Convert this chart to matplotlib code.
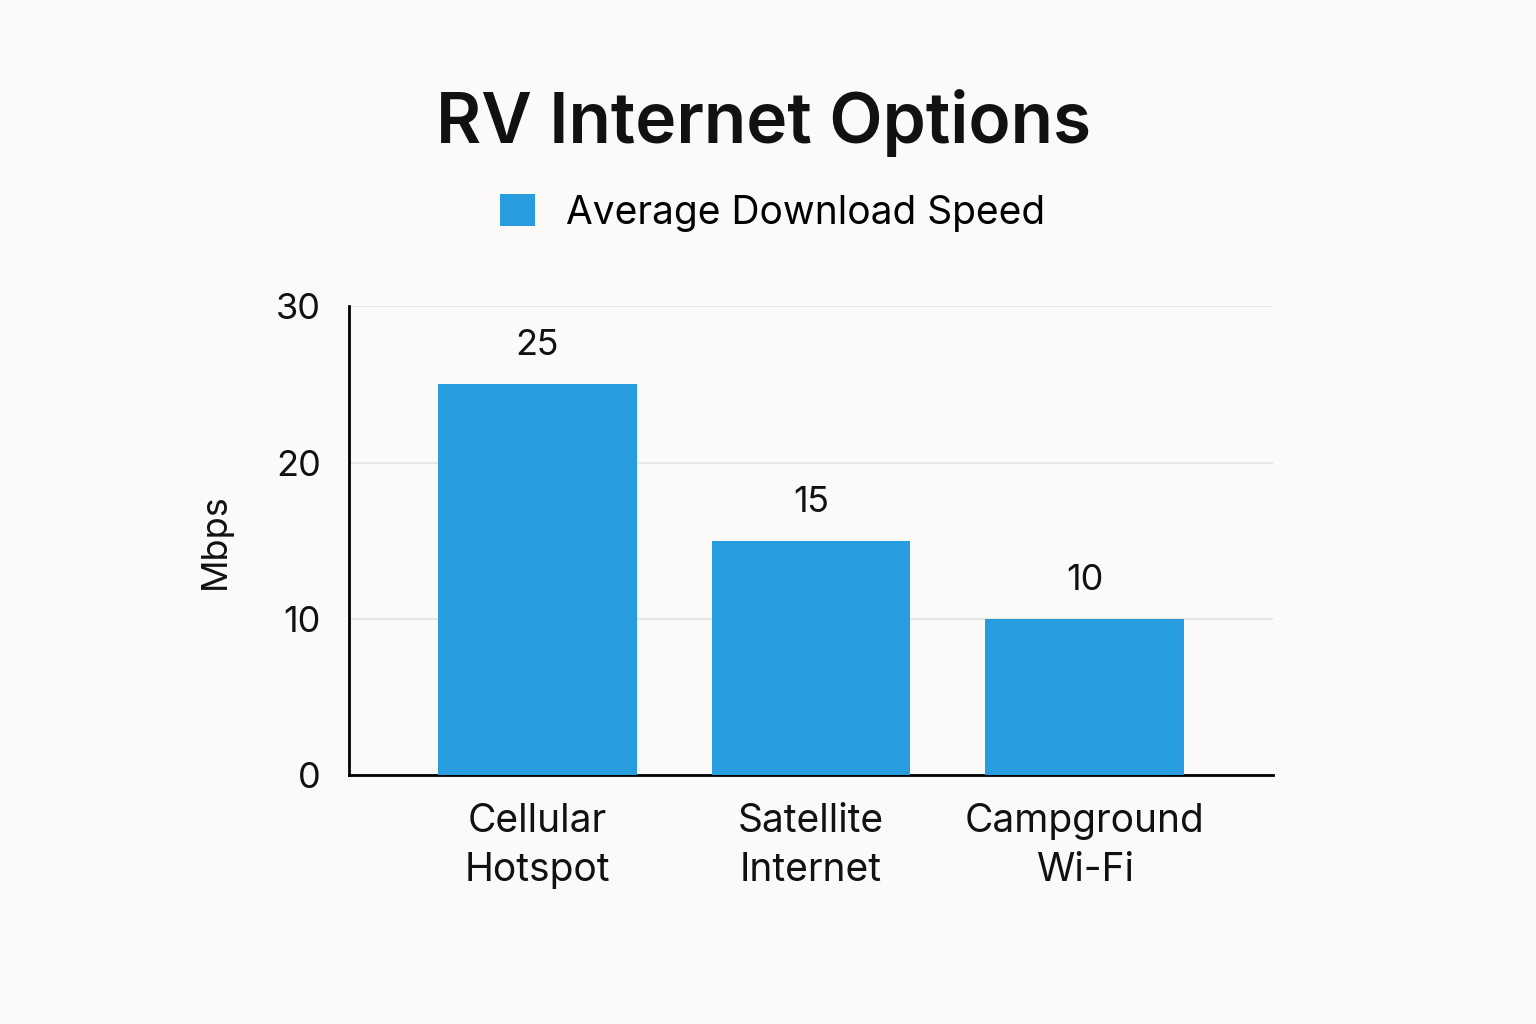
import matplotlib
matplotlib.use("Agg")
import matplotlib.pyplot as plt
from matplotlib.patches import Patch

categories = ["Cellular\nHotspot", "Satellite\nInternet", "Campground\nWi-Fi"]
speeds = [25, 15, 10]
yticks = [0, 10, 20, 30]

plt.rcParams["font.family"] = "Inter"
bg = "#FBFAF8"
color = "#279DE0"

fig = plt.figure(figsize=(15.36, 10.24), dpi=100, facecolor=bg)
ax = fig.add_axes([0.227, 0.243, 0.602, 0.458], facecolor=bg)
x = list(range(len(categories)))
ax.bar(x, speeds, width=0.725, color=color, zorder=3)
for xi, v in zip(x, speeds):
    ax.text(xi, v + 1.4, f"{v}", ha="center", va="bottom", fontsize=26, color="#111")
ax.set_xlim(-0.69, 2.69)
ax.set_ylim(0, 30)
ax.set_yticks(yticks)
ax.set_xticks(x)
ax.set_xticklabels(categories, fontsize=28, color="#111", linespacing=1.4)
ax.tick_params(axis="y", labelsize=26, length=0, pad=20, colors="#111")
ax.tick_params(axis="x", length=0, pad=20)
ax.grid(axis="y", color="#E2E2E2", linewidth=1.2, zorder=0)
for s in ["top", "right"]:
    ax.spines[s].set_visible(False)
ax.spines["left"].set_linewidth(2)
ax.spines["bottom"].set_linewidth(2)
ax.set_ylabel("Mbps", fontsize=26, labelpad=32, color="#111")
fig.text(0.497, 0.88, "RV Internet Options", ha="center", va="center",
         fontsize=50, fontweight="semibold", color="#111")
fig.legend(handles=[Patch(facecolor=color, label="Average Download Speed")],
           loc="center", bbox_to_anchor=(0.503, 0.792), frameon=False,
           fontsize=28, handlelength=0.9, handleheight=0.9, handletextpad=0.8)
fig.savefig("out.png", dpi=100, facecolor=bg)
